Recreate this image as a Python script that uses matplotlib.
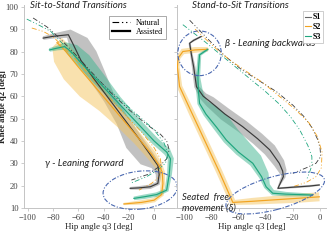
"""Knee vs hip angle trajectories for sit-to-stand and stand-to-sit transitions."""
import numpy as np
import matplotlib.pyplot as plt
from matplotlib.patches import Ellipse
from matplotlib.lines import Line2D

# ---------------- data: (hip q3, knee q2) in deg ----------------
# Sit-to-Stand, natural (mean only)
sts_nat_s1_hip = [-96, -85, -75, -63, -50, -35, -20, -5, 5, 10, 12, 10, 4, -5, -18]
sts_nat_s1_knee = [95, 91, 86, 79, 71, 62, 54, 47, 43, 40, 36, 32, 28.5, 25, 22.5]
sts_nat_s2_hip = [-97, -88, -80, -70, -55, -40, -25, -10, 0, 5, 6, 4, -2, -12]
sts_nat_s2_knee = [90.5, 89, 86.5, 81, 72, 62, 53, 44, 37, 32, 28, 24, 21, 18]
sts_nat_s3_hip = [-101, -92, -82, -70, -58, -40, -20, 0, 8, 11, 9, 3, -6, -19]
sts_nat_s3_knee = [94.5, 92, 89, 82, 75, 65, 55, 45, 39, 34, 30, 27, 24, 21]

# Sit-to-Stand, assisted (mean, band below / above)
sts_as_s1_hip = [-88, -80, -68, -64, -58, -48, -36, -24, -12, -2, 3, 4, 3, -3, -12, -19]
sts_as_s1_knee = [86, 86.8, 87.5, 83, 76, 68, 59, 50, 41, 33, 29, 25, 21, 19.5, 19, 18.8]
sts_as_s1_lo = [0.8, 1, 1.5, 2, 2, 2, 2.5, 4, 7, 6, 3, 1.5, 1, 1, 0.8, 0.6]
sts_as_s1_hi = [0.8, 1.2, 2.5, 7, 8, 6, 3, 2, 1.5, 1.5, 1.2, 1, 1, 1, 0.8, 0.6]
sts_as_s2_hip = [-77, -70, -60, -48, -36, -24, -12, -2, 4, 6.5, 7, 6, 0, -10, -24]
sts_as_s2_knee = [84, 80, 73, 65, 57, 49, 41, 34, 29, 26, 21, 16, 13.5, 12.5, 11.8]
sts_as_s2_lo = [3, 7, 8.5, 8, 5.5, 4, 3, 2.5, 2, 1.5, 1, 1, 1, 1, 0.5]
sts_as_s2_hi = [3, 3, 3, 2.5, 2.5, 2.5, 2, 2, 1.5, 1.2, 1, 1, 1, 1, 0.5]
sts_as_s3_hip = [-83, -77, -71, -66, -58, -45, -30, -15, 0, 10, 13, 12, 10, 2, -8, -16]
sts_as_s3_knee = [80.7, 81.5, 82.2, 80, 75, 67, 58, 49, 40, 35, 32, 25, 18, 16, 15, 14.3]
sts_as_s3_lo = [0.8, 1, 1.5, 2, 2, 2, 1.5, 1.5, 1.5, 1.5, 1.2, 1, 1, 1, 1, 0.8]
sts_as_s3_hi = [0.8, 1, 2, 4, 5, 4, 2.5, 2, 2, 2, 1.5, 1.2, 1, 1, 1, 0.8]

# Stand-to-Sit, natural
tss_nat_s1_hip = [-96, -88, -80, -70, -58, -45, -32, -20, -12, -6, -2, 0, 0.5, -3, -10, -20]
tss_nat_s1_knee = [94, 89, 84, 78, 72, 67, 62, 56, 51, 46, 41, 37, 33, 30, 28, 25.5]
tss_nat_s2_hip = [-92, -85, -76, -66, -54, -42, -30, -18, -8, -2, 1.5, 1, -3, -10, -20]
tss_nat_s2_knee = [90, 86, 81, 76, 71, 66, 60, 54, 48, 42, 35, 28, 24, 21.5, 19.5]
tss_nat_s3_hip = [-101, -85, -70, -55, -40, -30, -22, -15, -9, -6, -6, -8, -10]
tss_nat_s3_knee = [92, 84.5, 77, 69.5, 62, 56.5, 51, 45, 38, 33, 29, 25.5, 22.5]

# Stand-to-Sit, assisted
tss_as_s1_hip = [-87.5, -93, -96, -94.5, -93, -91, -86, -81, -70, -57, -46, -37, -30, -27.5, -27, -31, -20, -8, -0.5]
tss_as_s1_knee = [86.7, 85, 83.7, 78, 73, 64.3, 60, 57.6, 52, 46.4, 41, 36, 30, 26.5, 24, 18.8, 19.3, 19.8, 20.3]
tss_as_s1_lo = [0.4, 0.5, 0.5, 0.6, 0.8, 1, 1.8, 2.5, 3, 3, 3, 3, 2.5, 1.8, 1, 0.6, 0.5, 0.5, 0.4]
tss_as_s1_hi = [0.4, 0.5, 0.5, 0.6, 0.8, 1, 1.8, 2.5, 3, 3, 3, 3, 2.5, 1.8, 1, 0.6, 0.5, 0.5, 0.4]
tss_as_s2_hip = [-82.6, -92, -101, -104.5, -105, -103.4, -94, -84, -74, -64.2, -50, -30, -15, -0.5]
tss_as_s2_knee = [81, 80.7, 80, 77, 73, 64.3, 52, 39, 26, 12.5, 13, 13.8, 14.4, 15]
tss_as_s2_lo = [1, 1.3, 1.3, 1, 1, 1.2, 1.4, 1.4, 1.4, 1.5, 1.5, 1.8, 2, 2]
tss_as_s2_hi = [1, 1.3, 1.3, 1, 1, 1.2, 1.4, 1.4, 1.4, 1.5, 1.5, 1.8, 2, 2]
tss_as_s3_hip = [-82.6, -88.7, -89.9, -89.5, -88.7, -84, -76, -69, -60, -49.5, -43, -39.7, -34.8, -25, -15, -5.4]
tss_as_s3_knee = [81, 78.5, 68.7, 62, 56.8, 52, 46, 40.4, 35, 30, 24, 19.5, 16.6, 16.2, 16, 15.8]
tss_as_s3_lo = [0.6, 0.8, 1, 1, 1, 1.2, 1.5, 1.5, 1.5, 1.5, 1.2, 1, 1, 1, 0.8, 0.6]
tss_as_s3_hi = [0.6, 0.8, 1, 2, 3.5, 6, 7, 7, 6.5, 5, 3.5, 2, 1.5, 1, 0.8, 0.6]

SUBJECTS = ["S1", "S2", "S3"]
LINE_COLORS = {"S1": "#3a3a3a", "S2": "#f2a320", "S3": "#1fa67e"}
BAND_COLORS = {"S1": "#858585", "S2": "#f4c45e", "S3": "#3cb48e"}
ELLIPSE_COLOR = "#4a68b0"
NAT_DASH = (0, (6, 2.5, 1.2, 2.5, 1.2, 2.5))
XTICKS = [-100, -80, -60, -40, -20, 0]
YTICKS = [10, 20, 30, 40, 50, 60, 70, 80, 90, 100]

SERIF = "Liberation Serif"
SANS = "Lato"


def draw_band(ax, hip, knee, lo, hi, color):
    """Fill a band around the mean path, offsets taken normal to the path."""
    pts = ax.transData.transform(np.column_stack([hip, knee]))
    d = np.gradient(pts, axis=0)
    d /= np.linalg.norm(d, axis=1)[:, None]
    n = np.column_stack([-d[:, 1], d[:, 0]])
    unit = ax.transData.transform([(0, 1)])[0, 1] - ax.transData.transform([(0, 0)])[0, 1]
    upper = pts + n * np.asarray(hi)[:, None] * unit
    lower = pts - n * np.asarray(lo)[:, None] * unit
    poly = ax.transData.inverted().transform(np.vstack([upper, lower[::-1]]))
    ax.fill(poly[:, 0], poly[:, 1], color=color, alpha=0.5, lw=0, zorder=1)


def style_axes(ax, xlim, show_ylabels):
    ax.set_xlim(*xlim)
    ax.set_ylim(10, 100.8)
    ax.set_xticks(XTICKS)
    ax.set_yticks(YTICKS)
    for s in ("top", "right"):
        ax.spines[s].set_visible(False)
    for s in ("left", "bottom"):
        ax.spines[s].set_color("#c4c4c4")
        ax.spines[s].set_linewidth(0.7)
    ax.tick_params(length=2.5, width=0.6, color="#c4c4c4", labelsize=6.2,
                   labelcolor="#444444", pad=1.5)
    for lab in ax.get_xticklabels() + ax.get_yticklabels():
        lab.set_fontfamily(SERIF)
    if not show_ylabels:
        ax.set_yticklabels([])
    ax.set_xlabel("Hip angle q3 [deg]", fontfamily=SERIF, fontsize=6.5,
                  color="#222222", labelpad=1)


def draw_panel(ax, nat, assisted):
    for subj, (h, k, lo, hi) in zip(SUBJECTS, assisted):
        draw_band(ax, h, k, lo, hi, BAND_COLORS[subj])
    for subj, (h, k) in zip(SUBJECTS, nat):
        ax.plot(h, k, color=LINE_COLORS[subj], lw=0.6, ls=NAT_DASH, zorder=3)
    for subj, (h, k, lo, hi) in zip(SUBJECTS, assisted):
        ax.plot(h, k, color=LINE_COLORS[subj], lw=0.85, zorder=4,
                solid_joinstyle="round")


fig = plt.figure(figsize=(3.27, 2.40), dpi=100)
ax1 = fig.add_axes([24 / 327, 32 / 240, 150 / 327, 203 / 240])
ax2 = fig.add_axes([177 / 327, 32 / 240, 149 / 327, 203 / 240])
style_axes(ax1, (-103.2, 15.8), True)
style_axes(ax2, (-105.3, 4.4), False)
ax1.set_ylabel("Knee angle q2 [deg]", fontfamily=SERIF, fontsize=6.2,
               fontweight="bold", color="#222222")
ax1.yaxis.set_label_coords(-0.112, 0.5)

draw_panel(
    ax1,
    [(sts_nat_s1_hip, sts_nat_s1_knee), (sts_nat_s2_hip, sts_nat_s2_knee),
     (sts_nat_s3_hip, sts_nat_s3_knee)],
    [(sts_as_s1_hip, sts_as_s1_knee, sts_as_s1_lo, sts_as_s1_hi),
     (sts_as_s2_hip, sts_as_s2_knee, sts_as_s2_lo, sts_as_s2_hi),
     (sts_as_s3_hip, sts_as_s3_knee, sts_as_s3_lo, sts_as_s3_hi)],
)
draw_panel(
    ax2,
    [(tss_nat_s1_hip, tss_nat_s1_knee), (tss_nat_s2_hip, tss_nat_s2_knee),
     (tss_nat_s3_hip, tss_nat_s3_knee)],
    [(tss_as_s1_hip, tss_as_s1_knee, tss_as_s1_lo, tss_as_s1_hi),
     (tss_as_s2_hip, tss_as_s2_knee, tss_as_s2_lo, tss_as_s2_hi),
     (tss_as_s3_hip, tss_as_s3_knee, tss_as_s3_lo, tss_as_s3_hi)],
)

# highlighted regions
ell_kw = dict(fill=False, ec=ELLIPSE_COLOR, lw=0.8, ls=(0, (4, 1.5, 1, 1.5)),
              clip_on=False, zorder=5)
ax1.add_patch(Ellipse((-11, 18), 59, 17, angle=3, **ell_kw))
ax2.add_patch(Ellipse((-88.7, 79.2), 32, 20, angle=0, **ell_kw))
ax2.add_patch(Ellipse((-33, 16.7), 73.5, 15, angle=9, **ell_kw))

txt_kw = dict(fontfamily=SANS, fontstyle="italic", color="#222222",
              va="center", clip_on=False)
ax1.text(-98.8, 100.4, "Sit-to-Stand Transitions", fontsize=7, **txt_kw)
ax2.text(-94.1, 100.4, "Stand-to-Sit Transitions", fontsize=7, **txt_kw)
ax1.text(-86.2, 30.1, "γ - Leaning forward", fontsize=7, **txt_kw)
ax2.text(-69.9, 83.7, "β - Leaning backwards", fontsize=7, **txt_kw)
ax2.text(-101.5, 14.6, "Seated  free", fontsize=6.8, **txt_kw)
ax2.text(-101.5, 9.9, "movement (δ)", fontsize=6.8, **txt_kw)

# legends
leg1 = ax1.legend(
    handles=[Line2D([], [], color="black", lw=0.8, ls=NAT_DASH),
             Line2D([], [], color="black", lw=1.6)],
    labels=["Natural", "Assisted"], loc="upper right",
    bbox_to_anchor=(0.975, 0.965), prop={"family": SERIF, "size": 5.8},
    handlelength=2.2, handletextpad=0.8, borderpad=0.35, labelspacing=0.15,
    fancybox=False, framealpha=1, edgecolor="#888888",
)
leg1.get_frame().set_linewidth(0.5)
leg2 = ax2.legend(
    handles=[Line2D([], [], color="#666666", lw=0.8),
             Line2D([], [], color=LINE_COLORS["S2"], lw=0.8),
             Line2D([], [], color=LINE_COLORS["S3"], lw=0.8)],
    labels=SUBJECTS, loc="upper right", bbox_to_anchor=(1.01, 0.99),
    prop={"family": SERIF, "size": 5.8, "weight": "bold"},
    handlelength=0.7, handletextpad=0.2, borderpad=0.3, labelspacing=0.2,
    fancybox=False, framealpha=1, edgecolor="#bbbbbb",
)
leg2.get_frame().set_linewidth(0.5)

fig.savefig("out.png", dpi=100)
